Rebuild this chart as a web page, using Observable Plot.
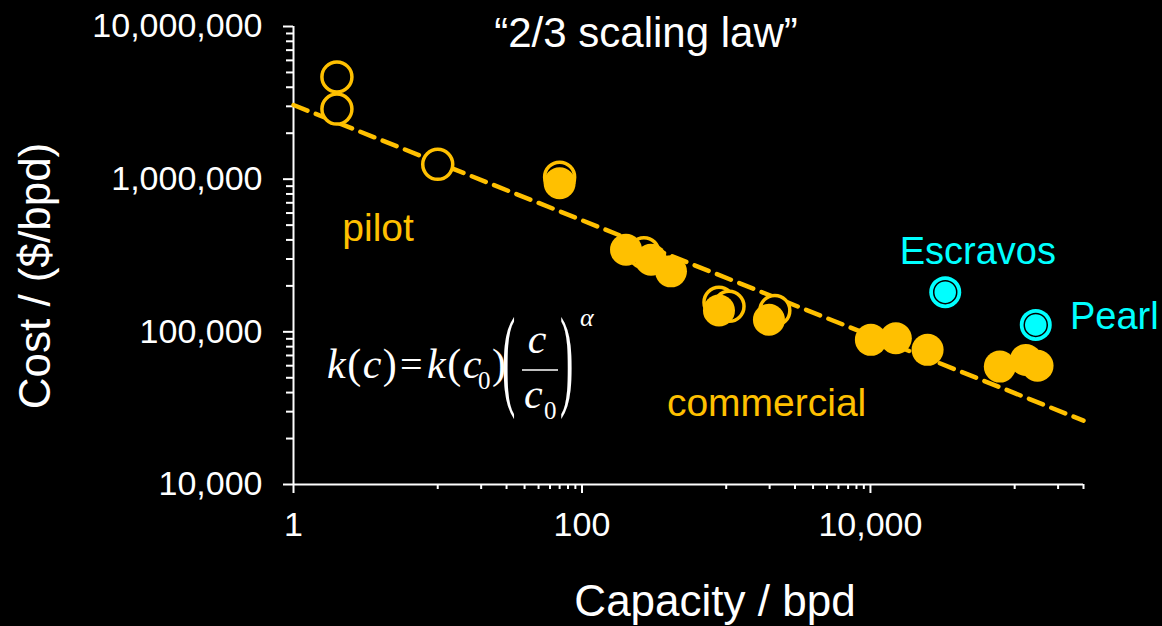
<!DOCTYPE html>
<html>
<head>
<meta charset="utf-8">
<script src="https://cdn.jsdelivr.net/npm/d3@7"></script>
<script src="https://cdn.jsdelivr.net/npm/@observablehq/plot@0.6"></script>
<style>
  html, body { margin: 0; padding: 0; background: #000; }
  svg { display: block; }
</style>
</head>
<body>
<div id="chart"></div>
<script>
// ---- data ----
const pilotCapacity = [2, 2, 10, 70, 269, 891, 1046, 2173];
const pilotCost = [4.67e6, 2.88e6, 1.25e6, 1.03e6, 3.3e5, 1.56e5, 1.47e5, 1.38e5];
const commercialCapacity = [70, 202, 301, 414, 891, 1978, 10070, 15000, 24900, 78900, 119600, 144000];
const commercialCost = [9.4e5, 3.45e5, 2.97e5, 2.49e5, 1.38e5, 1.20e5, 8.86e4, 9.08e4, 7.62e4, 5.92e4, 6.55e4, 6.0e4];
const gtlNames = ["Escravos", "Pearl"];
const gtlCapacity = [33000, 140000];
const gtlCost = [1.82e5, 1.11e5];
const fitCapacity = [1, 300000];
const fitCost = [3.06e6, 26200];
const xMajorTicks = [1, 100, 10000];
const xMinorTicks = [10, 20, 30, 40, 50, 60, 70, 80, 90, 1000, 2000, 3000, 4000, 5000, 6000, 7000, 8000, 9000, 100000, 200000, 300000];
const yMajorTicks = [1e4, 1e5, 1e6, 1e7];
const yMinorTicks = [2,3,4,5,6,7,8,9].flatMap(m => [m * 1e4, m * 1e5, m * 1e6]);
const regionLabels = ["pilot", "commercial"];
const regionLabelX = [2.18, 388];
const regionLabelY = [4.73e5, 34080];
const gtlLabelX = [15960, 241500];
const gtlLabelY = [3.34e5, 1.25e5];
const titleText = "\u201C2/3 scaling law\u201D";
const xTitle = "Capacity / bpd";
const yTitle = "Cost / ($/bpd)";

const ORANGE = "#FFC000";
const CYAN = "#00FFFF";

const pilot = pilotCapacity.map((c, i) => ({c, k: pilotCost[i]}));
const commercial = commercialCapacity.map((c, i) => ({c, k: commercialCost[i]}));
const gtl = gtlCapacity.map((c, i) => ({c, k: gtlCost[i], name: gtlNames[i], lx: gtlLabelX[i], ly: gtlLabelY[i]}));
const fit = fitCapacity.map((c, i) => ({c, k: fitCost[i]}));
const regions = regionLabels.map((t, i) => ({t, x: regionLabelX[i], y: regionLabelY[i]}));

const fmt = d3.format(",");

const svg = Plot.plot({
  width: 1162,
  height: 626,
  marginLeft: 293,
  marginRight: 79,
  marginTop: 26,
  marginBottom: 142,
  style: {background: "black", color: "white", fontFamily: "'Liberation Sans', Arial, sans-serif"},
  x: {type: "log", domain: [1, 300000]},
  y: {type: "log", domain: [1e4, 1e7]},
  marks: [
    Plot.ruleY([1e4], {stroke: "white", strokeWidth: 2}),
    Plot.ruleX([1], {stroke: "white", strokeWidth: 2}),
    Plot.axisX(xMinorTicks, {tickSize: 5, strokeWidth: 2, tickFormat: () => "", label: null}),
    Plot.axisX(xMajorTicks, {tickSize: 9, strokeWidth: 2, tickPadding: 18, tickFormat: fmt, fontSize: 34, label: null}),
    Plot.axisY(yMinorTicks, {tickSize: 7, strokeWidth: 2, tickFormat: () => "", label: null}),
    Plot.axisY(yMajorTicks, {tickSize: 10, strokeWidth: 2, tickPadding: 21, tickFormat: fmt, fontSize: 34, label: null}),
    Plot.line(fit, {x: "c", y: "k", stroke: ORANGE, strokeWidth: 4.5, strokeDasharray: "15,9"}),
    Plot.dot(pilot, {x: "c", y: "k", r: 15, fill: "black", stroke: ORANGE, strokeWidth: 3.5}),
    Plot.dot(commercial, {x: "c", y: "k", r: 16, fill: ORANGE}),
    Plot.dot(gtl, {x: "c", y: "k", r: 16, fill: CYAN}),
    Plot.dot(gtl, {x: "c", y: "k", r: 11.5, fill: CYAN, stroke: "black", strokeWidth: 1.5}),
    Plot.text(regions, {x: "x", y: "y", text: "t", fill: ORANGE, fontSize: 39, textAnchor: "start"}),
    Plot.text(gtl, {x: "lx", y: "ly", text: "name", fill: CYAN, fontSize: 38, textAnchor: "start"})
  ]
});

document.getElementById("chart").append(svg);

const s = d3.select(svg);
const sans = "'Liberation Sans', Arial, sans-serif";
const serif = "'Liberation Serif', 'Times New Roman', serif";

// title & axis titles
s.append("text").attr("x", 646).attr("y", 47).attr("text-anchor", "middle")
  .attr("fill", "white").attr("font-family", sans).attr("font-size", 42).text(titleText);
s.append("text").attr("x", 715).attr("y", 616).attr("text-anchor", "middle")
  .attr("fill", "white").attr("font-family", sans).attr("font-size", 44).text(xTitle);
s.append("text").attr("transform", "translate(50,276) rotate(-90)").attr("text-anchor", "middle")
  .attr("fill", "white").attr("font-family", sans).attr("font-size", 44).text(yTitle);

// formula k(c) = k(c0) (c / c0)^alpha
const f = s.append("g").attr("fill", "white").attr("font-family", serif).attr("text-anchor", "start");
const t1 = f.append("text").attr("x", 327).attr("y", 378).attr("font-size", 42).attr("letter-spacing", 1.5);
t1.append("tspan").attr("font-style", "italic").text("k");
t1.append("tspan").text("(");
t1.append("tspan").attr("font-style", "italic").text("c");
t1.append("tspan").text(")");
f.append("text").attr("x", 400).attr("y", 378).attr("font-size", 40).text("=");
const t2 = f.append("text").attr("x", 427).attr("y", 378).attr("font-size", 42).attr("letter-spacing", 1.5);
t2.append("tspan").attr("font-style", "italic").text("k");
t2.append("tspan").text("(");
t2.append("tspan").attr("font-style", "italic").text("c");
f.append("text").attr("x", 478).attr("y", 389).attr("font-size", 25).text("0");
f.append("text").attr("x", 492).attr("y", 378).attr("font-size", 42).text(")");
f.append("text").attr("transform", "translate(502,395) scale(1.0,2.8)").attr("font-size", 40).text("(");
f.append("text").attr("x", 537).attr("y", 353).attr("text-anchor", "middle").attr("font-size", 42).attr("font-style", "italic").text("c");
f.append("line").attr("x1", 522).attr("x2", 558).attr("y1", 370).attr("y2", 370).attr("stroke", "white").attr("stroke-width", 1.6);
f.append("text").attr("x", 524).attr("y", 408).attr("font-size", 42).attr("font-style", "italic").text("c");
f.append("text").attr("x", 544).attr("y", 419).attr("font-size", 25).text("0");
f.append("text").attr("transform", "translate(560,395) scale(1.0,2.8)").attr("font-size", 40).text(")");
f.append("text").attr("x", 580).attr("y", 326).attr("font-size", 26).attr("font-style", "italic").text("\u03B1");
</script>
</body>
</html>
